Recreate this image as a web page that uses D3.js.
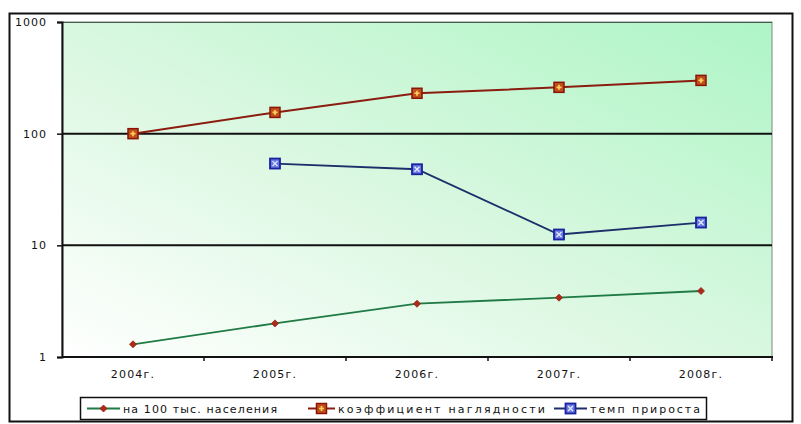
<!DOCTYPE html>
<html>
<head>
<meta charset="utf-8">
<script src="https://cdn.jsdelivr.net/npm/d3@7/dist/d3.min.js"></script>
<style>
  html, body { margin: 0; padding: 0; background: #fff; }
  svg { display: block; }
  text { font-family: "DejaVu Sans", Verdana, sans-serif; fill: #111; }
</style>
</head>
<body>
<svg id="chart" width="801" height="424"></svg>
<script>
// Data
const years = ["2004г.", "2005г.", "2006г.", "2007г.", "2008г."];
const per100k = [1.3, 2.0, 3.0, 3.4, 3.9];          // на 100 тыс. населения
const visualIndex = [100, 155, 230, 260, 300];      // коэффициент наглядности
const growthRate = [null, 54, 48, 12.5, 16];        // темп прироста
const yTicks = [1, 10, 100, 1000];
const seriesNames = ["на 100 тыс. населения", "коэффициент наглядности", "темп прироста"];

const svg = d3.select("#chart");
const W = 801, H = 424;
const plot = { left: 62, right: 772, top: 22, bottom: 357 };

// Outer frame
svg.append("rect").attr("x", 0).attr("y", 0).attr("width", W).attr("height", H).attr("fill", "#fff");
svg.append("rect").attr("x", 9.5).attr("y", 13.5).attr("width", 783).attr("height", 408)
  .attr("fill", "#fff").attr("stroke", "#111").attr("stroke-width", 2);

// Plot background gradient
const defs = svg.append("defs");
const grad = defs.append("linearGradient").attr("id", "bg")
  .attr("x1", "0").attr("y1", "1").attr("x2", "1").attr("y2", "0");
grad.append("stop").attr("offset", "0%").attr("stop-color", "#ffffff");
grad.append("stop").attr("offset", "45%").attr("stop-color", "#dcf8e2");
grad.append("stop").attr("offset", "100%").attr("stop-color", "#aef5c6");

svg.append("rect").attr("x", plot.left).attr("y", plot.top)
  .attr("width", plot.right - plot.left).attr("height", plot.bottom - plot.top)
  .attr("fill", "url(#bg)").attr("stroke", "#7a8a80").attr("stroke-width", 1);

// Scales
const x = d3.scaleBand().domain(years).range([plot.left, plot.right]).padding(0);
const xc = d => x(d) + x.bandwidth() / 2;
const y = d3.scaleLog().domain([1, 1000]).range([plot.bottom, plot.top]);

// Horizontal gridlines
svg.append("g").selectAll("line").data(yTicks.filter(t => t !== 1 && t !== 1000)).join("line")
  .attr("x1", plot.left).attr("x2", plot.right)
  .attr("y1", d => y(d)).attr("y2", d => y(d))
  .attr("stroke", "#111").attr("stroke-width", 2);
svg.append("line").attr("x1", plot.left).attr("x2", plot.right)
  .attr("y1", y(1000) + 0.5).attr("y2", y(1000) + 0.5)
  .attr("stroke", "#4a5a50").attr("stroke-width", 1);

// Y axis
const yAxis = d3.axisLeft(y).tickValues(yTicks).tickFormat(d3.format("d")).tickSize(5).tickPadding(10);
const gy = svg.append("g").attr("transform", `translate(${plot.left},0)`).call(yAxis);
gy.select(".domain").attr("stroke", "#111").attr("stroke-width", 2);
gy.selectAll(".tick line").attr("stroke", "#111").attr("stroke-width", 1.5);
gy.selectAll(".tick text").attr("font-size", 11).attr("letter-spacing", "1px")
  .attr("font-family", "DejaVu Sans").attr("fill", "#111");

// X axis: ticks sit on category boundaries
const gx = svg.append("g").attr("transform", `translate(0,${plot.bottom})`);
gx.append("line").attr("x1", plot.left).attr("x2", plot.right + 1).attr("y1", 0).attr("y2", 0)
  .attr("stroke", "#111").attr("stroke-width", 2);
gx.selectAll("line.tk").data(years.slice(1).concat(["end"])).join("line").attr("class", "tk")
  .attr("x1", d => d === "end" ? plot.right : x(d)).attr("x2", d => d === "end" ? plot.right : x(d))
  .attr("y1", 0).attr("y2", 4).attr("stroke", "#111").attr("stroke-width", 1.5);
gx.selectAll("text").data(years).join("text")
  .attr("x", d => xc(d)).attr("y", 21).attr("text-anchor", "middle")
  .attr("font-size", 11).attr("letter-spacing", "1.2px").text(d => d);

// Series lines
const line = d3.line().defined(d => d.v != null).x(d => xc(d.k)).y(d => y(d.v));
const toPts = arr => years.map((k, i) => ({ k, v: arr[i] }));

svg.append("path").datum(toPts(per100k)).attr("d", line)
  .attr("fill", "none").attr("stroke", "#1f7a45").attr("stroke-width", 1.8);
svg.append("path").datum(toPts(visualIndex)).attr("d", line)
  .attr("fill", "none").attr("stroke", "#8a1c10").attr("stroke-width", 2);
svg.append("path").datum(toPts(growthRate)).attr("d", line)
  .attr("fill", "none").attr("stroke", "#1c2f6a").attr("stroke-width", 1.8);

// Markers
function greenMarker(g, cx, cy) {
  g.append("path").attr("d", `M${cx},${cy - 3.5}L${cx + 3.5},${cy}L${cx},${cy + 3.5}L${cx - 3.5},${cy}Z`)
    .attr("fill", "#b02a1a").attr("stroke", "#8a2010").attr("stroke-width", 0.8);
}
function brownMarker(g, cx, cy) {
  g.append("rect").attr("x", cx - 5).attr("y", cy - 5).attr("width", 10).attr("height", 10)
    .attr("fill", "#c0501a").attr("stroke", "#8a1408").attr("stroke-width", 1.5);
  g.append("path").attr("d", `M${cx - 2.5},${cy}H${cx + 2.5}M${cx},${cy - 2.5}V${cy + 2.5}`)
    .attr("stroke", "#ffd060").attr("stroke-width", 1.6);
}
function blueMarker(g, cx, cy) {
  g.append("rect").attr("x", cx - 5).attr("y", cy - 5).attr("width", 10).attr("height", 10)
    .attr("fill", "#6a7ae0").attr("stroke", "#1a22a0").attr("stroke-width", 1.8);
  g.append("path").attr("d", `M${cx - 2.5},${cy - 2.5}L${cx + 2.5},${cy + 2.5}M${cx + 2.5},${cy - 2.5}L${cx - 2.5},${cy + 2.5}`)
    .attr("stroke", "#e8eeff").attr("stroke-width", 1.2);
}

const gm = svg.append("g");
toPts(per100k).forEach(d => greenMarker(gm, xc(d.k), y(d.v)));
toPts(visualIndex).forEach(d => brownMarker(gm, xc(d.k), y(d.v)));
toPts(growthRate).filter(d => d.v != null).forEach(d => blueMarker(gm, xc(d.k), y(d.v)));

// Legend
const lg = svg.append("g");
lg.append("rect").attr("x", 80.5).attr("y", 397.5).attr("width", 626).attr("height", 22)
  .attr("fill", "#fff").attr("stroke", "#111").attr("stroke-width", 1.5);
const legendItems = [
  { color: "#1f7a45", draw: greenMarker, lineX: 87, textX: 123, textW: 154 },
  { color: "#8a1c10", draw: brownMarker, lineX: 308, textX: 338, textW: 207 },
  { color: "#1c2f6a", draw: blueMarker, lineX: 554, textX: 590, textW: 110 }
];
const ly = 408.5;
seriesNames.forEach((name, i) => {
  const it = legendItems[i];
  lg.append("line").attr("x1", it.lineX).attr("x2", it.textX - 3).attr("y1", ly).attr("y2", ly)
    .attr("stroke", it.color).attr("stroke-width", 2);
  it.draw(lg, (it.lineX + it.textX - 3) / 2, ly);
  lg.append("text").attr("x", it.textX).attr("y", ly + 4)
    .attr("font-size", 11).attr("textLength", it.textW).attr("lengthAdjust", "spacing").text(name);
});
</script>
</body>
</html>
